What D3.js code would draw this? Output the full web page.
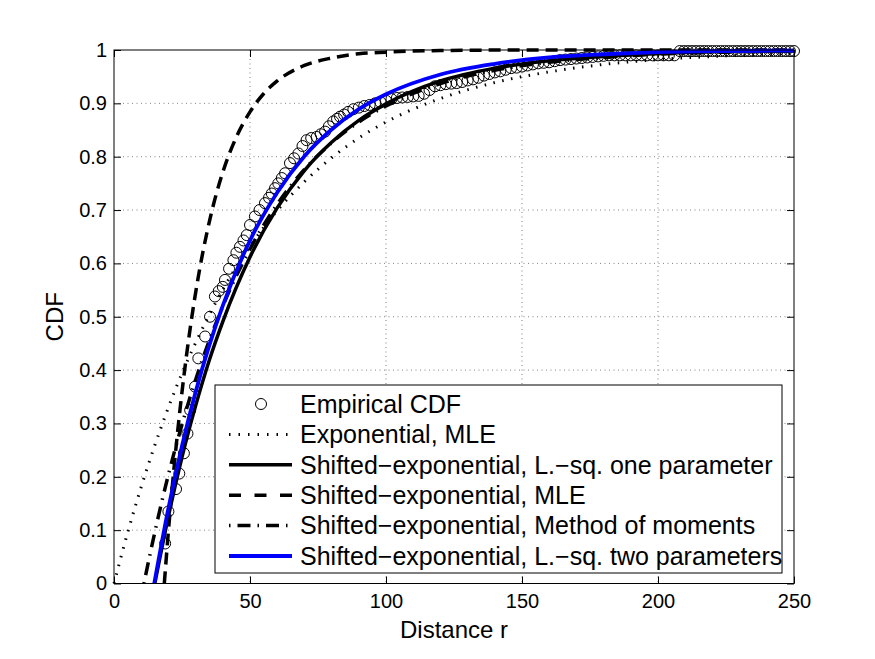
<!DOCTYPE html>
<html>
<head>
<meta charset="utf-8">
<script src="https://cdn.jsdelivr.net/npm/d3@7"></script>
<style>
body { margin: 0; background: #fff; }
svg { display: block; font-family: "Liberation Sans", Arial, Helvetica, sans-serif; }
</style>
</head>
<body>
<svg id="chart" width="875" height="659"></svg>
<script>
// values
const xTicks = [0, 50, 100, 150, 200, 250];
const yTicks = [0, 0.1, 0.2, 0.3, 0.4, 0.5, 0.6, 0.7, 0.8, 0.9, 1];

const empirical = [
    [18.8, 0.075], [20.0, 0.135], [22.8, 0.177], [24.0, 0.206], [25.7, 0.244], [27.0, 0.281],
    [28.0, 0.325], [29.8, 0.369], [31.0, 0.422], [33.5, 0.463], [35.3, 0.500], [37.1, 0.538],
    [38.5, 0.548], [40.0, 0.556], [40.8, 0.569], [42.3, 0.590], [43.9, 0.606], [45.0, 0.620],
    [46.3, 0.631], [47.6, 0.643], [48.8, 0.653], [50.0, 0.672], [51.8, 0.688], [53.5, 0.700],
    [55.5, 0.713], [57.0, 0.723], [58.0, 0.731], [59.2, 0.741], [60.4, 0.750], [61.7, 0.760],
    [62.9, 0.769], [64.7, 0.788], [66.2, 0.797], [67.8, 0.806], [69.3, 0.820], [70.8, 0.831],
    [72.5, 0.835], [74.5, 0.837], [76.0, 0.842], [77.6, 0.847], [79.0, 0.857], [80.6, 0.866],
    [82.0, 0.871], [83.1, 0.875], [84.6, 0.879], [86.1, 0.884], [88, 0.889], [90, 0.892],
    [92, 0.895], [94, 0.897], [96, 0.900], [98, 0.902], [100, 0.905], [102, 0.908],
    [104, 0.910], [106, 0.911], [108, 0.912], [110, 0.913], [112, 0.914], [114, 0.918],
    [116, 0.925], [118, 0.932], [120, 0.934], [122, 0.936], [124, 0.937], [126, 0.938],
    [128, 0.940], [130, 0.943], [132, 0.945], [134, 0.948], [136, 0.952], [138, 0.955],
    [140, 0.958], [142, 0.960], [144, 0.963], [146, 0.966], [148, 0.967], [150, 0.969],
    [152, 0.971], [154, 0.973], [156, 0.975], [158, 0.976], [160, 0.977], [162, 0.979],
    [164, 0.981], [166, 0.982], [168, 0.983], [170, 0.984], [172, 0.985], [174, 0.986],
    [176, 0.987], [178, 0.988], [180, 0.989], [182, 0.990], [184, 0.990], [186, 0.990],
    [188, 0.990], [190, 0.990], [192, 0.990], [194, 0.990], [196, 0.990], [198, 0.990],
    [200, 0.990], [202, 0.990], [204, 0.990], [206, 0.990], [208, 0.998], [209.5, 0.998],
    [211, 0.998], [212.5, 0.998], [214, 0.998], [215.5, 0.998], [217, 0.998], [218.5, 0.998],
    [220, 0.998], [221.5, 0.998], [223, 0.998], [224.5, 0.998], [226, 0.998], [227.5, 0.998],
    [229, 0.998], [230.5, 0.998], [232, 0.998], [233.5, 0.998], [235, 0.998], [236.5, 0.998],
    [238, 0.998], [239.5, 0.998], [241, 0.998], [242.5, 0.998], [244, 0.998], [245.5, 0.998],
    [247, 0.998], [248.5, 0.998], [250, 0.998]
];

const expMle = [
    [0, 0], [5, 0.095], [10, 0.181], [15, 0.259], [20, 0.330], [25, 0.394], [30, 0.451],
    [40, 0.551], [50, 0.632], [60, 0.699], [70, 0.753], [80, 0.798], [90, 0.835], [100, 0.865],
    [120, 0.909], [140, 0.939], [160, 0.959], [180, 0.973], [200, 0.982], [225, 0.989], [250, 0.993]
];

const lsqOne = [
    [15, 0], [20, 0.126], [25, 0.237], [30, 0.333], [35, 0.418], [40, 0.491], [50, 0.612],
    [60, 0.704], [70, 0.774], [80, 0.827], [90, 0.868], [100, 0.899], [120, 0.942], [140, 0.966],
    [160, 0.980], [180, 0.988], [200, 0.993], [225, 0.997], [250, 0.998]
];

const shiftMle = [
    [18.5, 0], [20, 0.098], [22, 0.213], [25, 0.359], [28, 0.478], [31, 0.575], [35, 0.677],
    [40, 0.771], [45, 0.837], [50, 0.884], [55, 0.918], [60, 0.942], [70, 0.971], [80, 0.985],
    [90, 0.993], [100, 0.996], [120, 0.999], [150, 1.0], [250, 1.0]
];

const shiftMom = [
    [11, 0], [15, 0.096], [20, 0.204], [25, 0.298], [30, 0.382], [35, 0.455], [40, 0.520],
    [50, 0.627], [60, 0.711], [70, 0.776], [80, 0.826], [90, 0.865], [100, 0.895], [120, 0.937],
    [140, 0.962], [160, 0.977], [180, 0.986], [200, 0.992], [225, 0.996], [250, 0.998]
];

const lsqTwo = [
    [14.8, 0], [20, 0.141], [25, 0.258], [30, 0.359], [35, 0.446], [40, 0.521], [50, 0.643],
    [60, 0.733], [70, 0.801], [80, 0.851], [90, 0.889], [100, 0.917], [120, 0.954], [140, 0.974],
    [160, 0.986], [180, 0.992], [200, 0.996], [225, 0.998], [250, 0.999]
];

const legendLabels = [
    "Empirical CDF",
    "Exponential, MLE",
    "Shifted\u2212exponential, L.\u2212sq. one parameter",
    "Shifted\u2212exponential, MLE",
    "Shifted\u2212exponential, Method of moments",
    "Shifted\u2212exponential, L.\u2212sq. two parameters"
];

const margin = { top: 50, right: 81, bottom: 75.5, left: 114 };
const width = 875 - margin.left - margin.right;
const height = 659 - margin.top - margin.bottom;

const svg = d3.select("#chart");
const g = svg.append("g").attr("transform", `translate(${margin.left},${margin.top})`);

const x = d3.scaleLinear().domain([0, 250]).range([0, width]);
const y = d3.scaleLinear().domain([0, 1]).range([height, 0]);

// dotted grid
const grid = g.append("g").attr("stroke", "#000").attr("stroke-width", 0.7)
    .attr("stroke-dasharray", "1,3.5").attr("opacity", 0.7);
grid.selectAll(".gx").data(xTicks.slice(1, -1)).join("line")
    .attr("x1", d => x(d)).attr("x2", d => x(d)).attr("y1", 0).attr("y2", height);
grid.selectAll(".gy").data(yTicks.slice(1, -1)).join("line")
    .attr("y1", d => y(d)).attr("y2", d => y(d)).attr("x1", 0).attr("x2", width);

// axes with inward ticks on all four sides, MATLAB style
const xAxis = g.append("g").attr("transform", `translate(0,${height})`)
    .call(d3.axisBottom(x).tickValues(xTicks).tickSizeInner(-7).tickSizeOuter(0).tickPadding(10).tickFormat(String));
const xAxisTop = g.append("g")
    .call(d3.axisTop(x).tickValues(xTicks).tickSizeInner(-7).tickSizeOuter(0).tickFormat(""));
const yAxis = g.append("g")
    .call(d3.axisLeft(y).tickValues(yTicks).tickSizeInner(-7).tickSizeOuter(0).tickPadding(7).tickFormat(String));
const yAxisRight = g.append("g").attr("transform", `translate(${width},0)`)
    .call(d3.axisRight(y).tickValues(yTicks).tickSizeInner(-7).tickSizeOuter(0).tickFormat(""));

[xAxis, xAxisTop, yAxis, yAxisRight].forEach(a => {
    a.select(".domain").remove();
    a.selectAll("line").attr("stroke", "#000");
    a.selectAll("text").attr("font-size", 20).attr("fill", "#000")
        .attr("font-family", "Liberation Sans, Arial, Helvetica, sans-serif");
});

// curves
const plot = g.append("g");
const line = d3.line().x(d => x(d[0])).y(d => y(d[1])).curve(d3.curveMonotoneX);

plot.selectAll("circle").data(empirical).join("circle")
    .attr("cx", d => x(d[0])).attr("cy", d => y(d[1])).attr("r", 5.5)
    .attr("fill", "none").attr("stroke", "#000").attr("stroke-width", 1);

const styles = [
    { data: expMle, color: "#000", w: 3, dash: "1.5,7.5", legendDash: "1.5,8" },
    { data: lsqOne, color: "#000", w: 3.5, dash: null, legendDash: null },
    { data: shiftMle, color: "#000", w: 3.5, dash: "12,7", legendDash: "12,13.5" },
    { data: shiftMom, color: "#000", w: 3.5, dash: "1.5,7,13,7", legendDash: "1.5,7,13,7" },
    { data: lsqTwo, color: "#0000ff", w: 3.8, dash: null, legendDash: null }
];

styles.forEach(s => {
    plot.append("path").datum(s.data)
        .attr("d", line)
        .attr("fill", "none")
        .attr("stroke", s.color)
        .attr("stroke-width", s.w)
        .attr("stroke-dasharray", s.dash);
});

// box
g.append("rect").attr("width", width).attr("height", height)
    .attr("fill", "none").attr("stroke", "#000").attr("stroke-width", 1);

// axis labels
g.append("text").attr("x", width / 2).attr("y", height + 54)
    .attr("text-anchor", "middle").attr("font-size", 24).text("Distance r");
g.append("text").attr("transform", `translate(${63 - margin.left},${height / 2}) rotate(-90)`)
    .attr("text-anchor", "middle").attr("font-size", 24).text("CDF");

// legend
const legend = svg.append("g").attr("transform", "translate(215,385)");
legend.append("rect").attr("width", 567).attr("height", 188)
    .attr("fill", "#fff").attr("stroke", "#000").attr("stroke-width", 1);

const rowH = 30.4;
legendLabels.forEach((label, i) => {
    const row = legend.append("g").attr("transform", `translate(0,${19 + i * rowH})`);
    if (i === 0) {
        row.append("circle").attr("cx", 46).attr("cy", 0).attr("r", 5.5)
            .attr("fill", "none").attr("stroke", "#000").attr("stroke-width", 1);
    } else {
        const s = styles[i - 1];
        row.append("line").attr("x1", 14).attr("x2", 77).attr("y1", 0).attr("y2", 0)
            .attr("stroke", s.color).attr("stroke-width", s.w)
            .attr("stroke-dasharray", s.legendDash);
    }
    row.append("text").attr("x", 85).attr("y", 0).attr("dy", "0.35em")
        .attr("font-size", 25).text(label);
});
</script>
</body>
</html>
